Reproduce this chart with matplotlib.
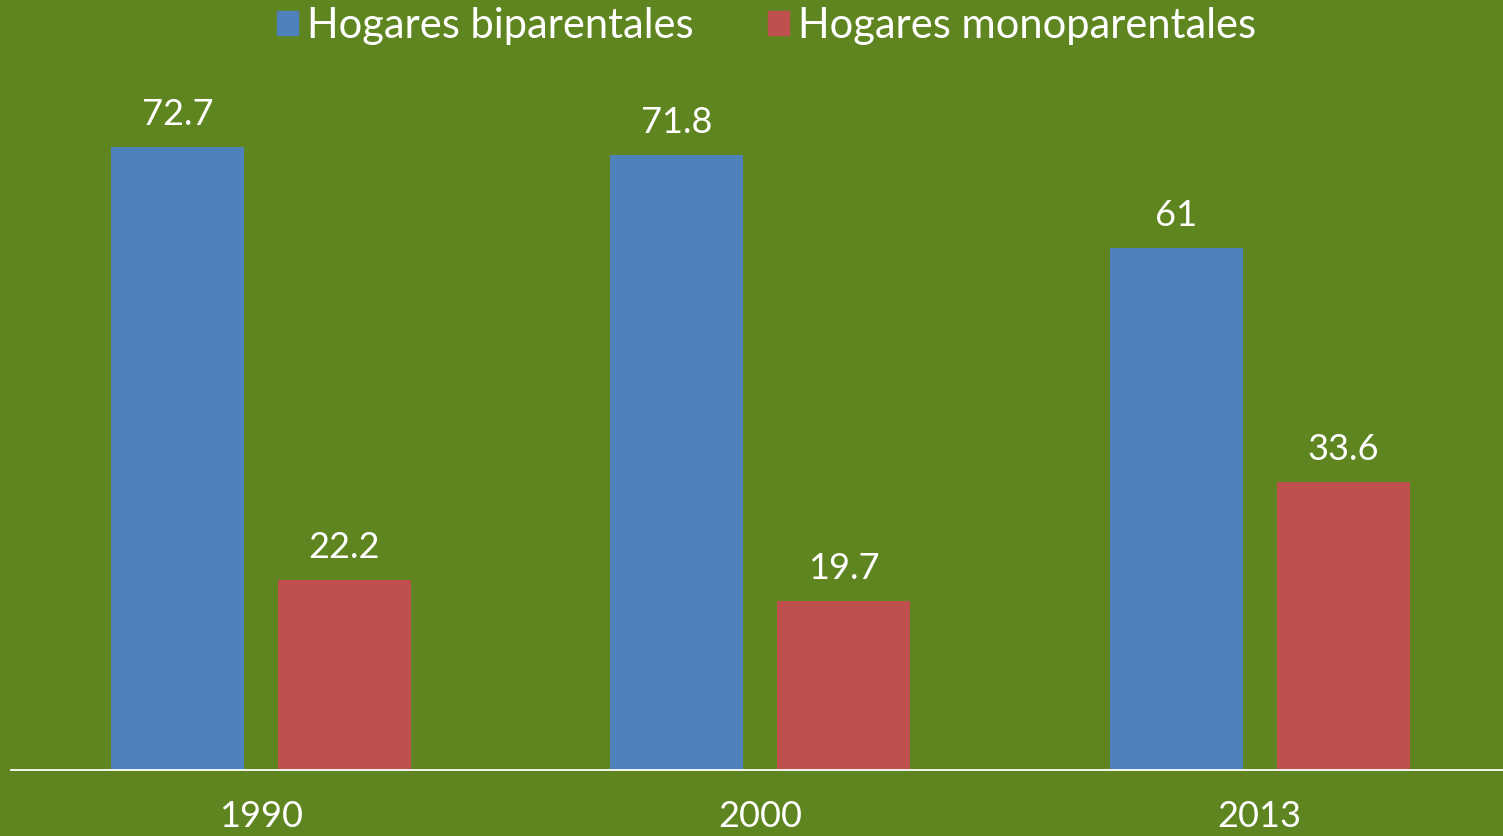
import matplotlib
matplotlib.use("Agg")
import matplotlib.pyplot as plt
from matplotlib.patches import Patch
import numpy as np

years = ["1990", "2000", "2013"]
biparentales = [72.7, 71.8, 61]
monoparentales = [22.2, 19.7, 33.6]
series_names = ["Hogares biparentales", "Hogares monoparentales"]

BG = "#5F8520"
BLUE = "#4F81BD"
RED = "#C0504D"
FONT = "Lato"

W, H = 1503, 836
fig = plt.figure(figsize=(W / 100, H / 100), dpi=100, facecolor=BG)
ax = fig.add_axes([11 / W, (H - 769.5) / H, (W - 11) / W, (769.5 - 85) / H])
ax.set_facecolor(BG)

x = np.arange(len(years))
bw = 0.2663
off = 0.1667
b1 = ax.bar(x - off, biparentales, bw, color=BLUE)
b2 = ax.bar(x + off, monoparentales, bw, color=RED)

ax.set_xlim(-0.5, 2.487)
ax.set_ylim(0, 80)
for s in ["top", "left", "right"]:
    ax.spines[s].set_visible(False)
ax.spines["bottom"].set_color("white")
ax.spines["bottom"].set_linewidth(1.3)
ax.set_yticks([])
ax.set_xticks(x)
ax.set_xticklabels(years, fontsize=26, color="white", family=FONT)
ax.tick_params(axis="x", length=0, pad=22)

for bars in (b1, b2):
    ax.bar_label(bars, labels=[f"{v:g}" for v in bars.datavalues], padding=11.5,
                 fontsize=26, color="white", family=FONT)

handles = [Patch(color=BLUE), Patch(color=RED)]
leg = fig.legend(handles, series_names, loc="center", bbox_to_anchor=(766.5 / W, 1 - 26 / H),
                 ncol=2, frameon=False, handlelength=0.5, handleheight=0.5,
                 handletextpad=0.22, columnspacing=1.78,
                 prop={"family": FONT, "size": 30})
for t in leg.get_texts():
    t.set_color("white")

fig.savefig("out.png", dpi=100, facecolor=BG)
